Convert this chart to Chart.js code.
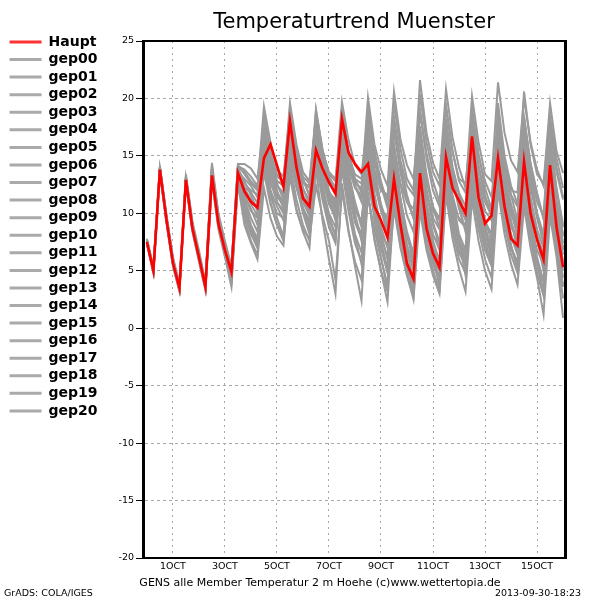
<!DOCTYPE html>
<html>
<head>
<meta charset="utf-8">
<script src="https://cdn.jsdelivr.net/npm/chart.js@4/dist/chart.umd.min.js"></script>
<style>
html,body{margin:0;padding:0;background:#fff;}
#c{display:block;}
</style>
</head>
<body>
<canvas id="c" width="600" height="600"></canvas>
<script>
// ---- data (6-hourly steps starting 30SEP 00Z) ----
const tickSteps = [4, 12, 20, 28, 36, 44, 52, 60];
const tickLabels = ["1OCT", "3OCT", "5OCT", "7OCT", "9OCT", "11OCT", "13OCT", "15OCT"];
const yTicks = [-20, -15, -10, -5, 0, 5, 10, 15, 20, 25];

const haupt = [7.5,
 5.0,13.8,9.5,5.7, 3.5,12.9,8.7,6.2, 3.6,13.3,9.1,6.8, 4.9,13.5,11.9,11.0,
 10.5,14.8,16.0,14.2, 12.3,18.0,14.0,11.3, 10.6,15.5,13.9,12.7, 11.7,18.2,15.3,14.3,
 13.6,14.3,10.6,9.4, 7.9,13.0,9.0,5.6, 4.3,13.5,8.7,6.5, 5.3,14.9,12.2,11.1,
 10.0,16.7,11.4,9.1, 9.8,14.8,10.6,7.8, 7.2,14.5,10.0,7.7, 6.0,14.2,8.8,5.3];

const gep00 = [7.6, 5.1,14.0,9.6,5.8, 3.4,13.1,8.9,6.3, 3.7,13.6,9.3,6.6, 4.6,13.8,11.5,10.2, 9.6,17.5,13.8,11.0, 10.2,17.8,14.2,11.5, 10.4,16.2,13.0,11.0, 9.8,18.5,14.6,12.8, 12.0,16.0,12.5,10.2, 8.6,15.8,11.2,8.4, 6.5,16.4,12.0,9.0, 7.2,17.2,13.2,10.8, 9.4,15.0,11.6,9.3, 8.2,17.8,13.0,10.5, 9.0,16.5,12.4,9.8, 7.5,15.8,11.0,8.2];
const gep01 = [7.4, 4.9,13.6,9.3,5.5, 3.3,12.7,8.5,6.0, 3.5,13.2,9.0,6.9, 5.2,13.2,12.3,11.8, 10.9,16.0,13.9,12.4, 11.8,16.8,13.5,11.0, 9.8,14.2,11.4,9.0, 7.6,13.8,10.2,7.4, 5.8,14.8,10.5,7.6, 5.0,15.4,11.2,8.0, 6.2,17.6,13.4,10.6, 9.5,18.2,14.0,11.8, 10.6,17.0,13.2,11.0, 9.8,19.6,15.0,12.4, 10.8,18.4,14.2,11.6, 9.5,16.5,12.2,9.0];
const gep02 = [7.7, 5.2,13.9,9.8,6.0, 3.7,13.0,9.0,6.5, 3.9,13.9,9.6,7.2, 5.5,14.3,14.3,13.9, 13.0,18.0,15.0,12.6, 11.2,19.2,15.6,13.0, 11.5,17.0,13.4,11.2, 9.4,16.0,12.0,9.5, 8.2,12.5,10.0,7.0, 4.8,11.8,8.0,5.2, 3.6,12.6,8.4,5.8, 4.5,13.4,9.6,7.4, 6.0,14.0,10.2,7.5, 5.8,15.2,11.0,8.0, 6.4,13.4,9.0,6.2, 4.0,12.8,8.2,5.0];
const gep03 = [7.5, 5.0,13.7,9.4,5.6, 3.5,12.8,8.8,6.1, 3.4,13.0,8.8,6.4, 4.2,12.8,10.0,8.2, 7.0,13.8,11.5,10.0, 9.6,15.5,12.8,10.5, 9.0,16.4,13.0,10.8, 9.6,17.8,14.0,12.2, 11.5,19.0,15.2,12.4, 10.5,17.2,13.5,11.0, 9.8,15.0,11.8,9.2, 7.5,13.0,9.8,7.4, 5.8,12.0,8.6,6.0, 4.4,13.8,9.6,7.0, 5.5,11.8,8.2,5.6, 3.0,11.2,7.0,3.6];
const gep04 = [7.6, 5.1,13.8,9.7,5.9, 3.6,13.2,9.1,6.4, 3.8,14.1,9.8,7.4, 5.0,14.0,13.6,12.8, 12.2,19.3,16.2,13.8, 13.2,18.6,15.2,12.8, 12.2,19.0,15.5,13.4, 12.8,19.7,16.4,14.2, 13.4,18.2,14.8,12.5, 11.2,16.0,12.5,9.8, 8.4,15.2,11.0,8.2, 6.8,14.0,10.2,7.6, 5.6,13.2,9.6,7.0, 6.2,14.6,10.5,7.8, 6.8,15.8,11.2,8.0, 6.4,14.8,10.6,7.4];
const gep05 = [7.3, 4.8,13.5,9.2,5.4, 3.2,12.6,8.4,5.8, 3.3,12.8,8.6,6.2, 3.6,12.6,9.0,7.4, 6.0,12.2,9.6,8.0, 7.2,13.6,10.4,8.4, 7.0,14.8,11.2,8.8, 7.4,15.6,11.8,9.2, 7.8,16.8,12.8,10.4, 9.6,18.4,14.6,12.4, 11.6,20.4,16.2,13.6, 12.4,19.2,15.4,13.0, 12.6,17.8,14.0,11.4, 10.2,16.2,12.6,10.0, 8.6,14.2,10.8,8.0, 6.4,13.0,9.6,6.8];
const gep06 = [7.8, 5.3,14.1,9.9,6.2, 3.9,13.4,9.3,6.8, 4.0,14.4,10.0,7.6, 5.4,13.6,13.0,12.4, 11.4,17.2,14.8,12.8, 12.5,19.6,16.0,13.6, 12.8,18.4,15.0,13.0, 11.8,17.0,13.6,11.0, 9.0,15.4,11.6,8.8, 7.0,14.2,10.2,7.2, 5.0,13.2,9.4,7.0, 6.0,15.0,11.6,9.4, 8.8,16.6,12.8,10.2, 9.4,18.0,14.2,12.0, 11.8,20.6,16.0,13.4, 12.6,19.6,15.4,13.5];
const gep07 = [7.5, 5.0,13.9,9.5,5.7, 3.4,12.9,8.7,6.1, 3.6,13.4,9.2,6.8, 4.8,13.4,11.0,9.0, 7.8,15.0,12.0,9.6, 8.0,14.2,11.2,9.0, 7.6,15.4,11.8,9.4, 8.2,16.6,12.6,10.0, 7.6,14.2,10.4,7.4, 5.2,13.6,9.6,6.6, 4.2,14.0,9.8,7.0, 5.4,15.6,11.4,8.2, 6.8,16.4,12.4,9.4, 7.6,18.6,14.4,11.6, 9.4,17.2,13.0,10.0, 7.8,15.2,11.0,8.0];
const gep08 = [7.6, 5.1,14.0,9.6,5.8, 3.5,13.0,8.8,6.2, 3.7,13.5,9.2,6.7, 4.5,13.0,10.6,8.6, 7.6,14.6,12.6,11.4, 10.8,17.0,13.8,11.6, 10.6,15.2,12.2,10.0, 8.8,14.6,11.0,8.2, 6.6,11.4,8.6,6.0, 3.8,10.4,7.0,4.6, 2.8,11.0,7.4,5.0, 3.4,12.0,8.4,6.0, 4.8,12.8,9.2,6.8, 5.4,14.2,10.6,8.2, 6.6,15.2,11.4,8.6, 7.0,13.8,9.8,7.0];
const gep09 = [7.4, 4.9,13.7,9.4,5.6, 3.3,12.8,8.6,6.0, 3.5,13.1,8.9,6.5, 4.0,12.7,9.6,7.6, 6.4,13.6,10.8,9.0, 8.0,16.2,12.4,10.0, 8.2,17.6,13.6,11.2, 10.0,18.8,14.8,12.6, 12.2,20.1,16.0,13.8, 12.4,20.6,16.4,14.2, 13.0,19.0,15.2,12.8, 11.0,16.8,13.0,10.4, 8.6,14.8,11.2,8.6, 6.8,13.6,10.0,7.2, 5.2,12.6,8.8,5.8, 3.2,12.4,8.0,4.4];
const gep10 = [7.7, 5.2,13.8,9.7,6.0, 3.6,13.1,9.0,6.4, 3.8,13.8,9.5,7.1, 5.1,13.9,12.8,11.6, 10.2,16.6,13.4,11.6, 10.6,18.4,14.6,12.2, 11.0,16.6,13.6,11.8, 11.0,16.2,12.8,10.6, 9.2,14.6,11.0,8.0, 6.2,12.6,8.6,5.6, 4.0,12.2,8.2,5.6, 4.0,13.2,9.2,6.6, 5.4,14.6,10.6,8.0, 6.8,16.4,12.2,9.2, 7.6,15.0,11.0,8.0, 6.0,14.0,9.6,6.4];
const gep11 = [7.5, 5.0,13.6,9.3,5.6, 3.4,12.7,8.6,6.0, 3.5,13.3,9.1,6.6, 4.4,13.3,11.6,10.4, 9.0,16.8,14.2,12.8, 12.4,17.4,14.6,12.6, 12.4,16.0,13.2,11.6, 10.4,14.8,12.0,10.2, 9.4,13.0,10.4,8.2, 7.2,12.2,9.0,6.6, 5.6,11.2,8.0,6.0, 5.0,12.0,8.8,6.8, 5.6,13.6,10.0,7.6, 6.6,15.0,11.4,8.8, 7.8,17.6,13.6,11.0, 9.8,18.2,14.0,11.4];
const gep12 = [7.6, 5.1,13.8,9.5,5.8, 3.5,13.0,8.9,6.3, 3.7,13.6,9.4,6.9, 4.9,13.7,12.0,10.8, 9.8,18.6,15.4,13.2, 12.8,18.0,15.0,13.2, 12.6,17.6,14.4,12.6, 12.0,18.0,14.8,13.0, 12.6,16.6,13.8,12.0, 11.6,14.8,12.6,11.0, 10.4,13.4,11.4,10.2, 9.4,12.6,10.6,9.6, 9.0,11.2,9.8,8.4, 7.4,12.4,9.2,7.0, 5.8,12.0,8.4,5.6, 4.2,11.0,7.0,3.8];
const gep13 = [7.5, 5.0,13.9,9.5,5.7, 3.5,12.9,8.8,6.2, 3.6,13.4,9.2,6.8, 4.7,13.5,11.2,9.6, 8.4,15.8,13.2,11.8, 11.0,16.2,13.4,11.4, 10.0,18.2,14.6,12.0, 10.6,19.2,15.4,13.0, 11.8,17.4,13.6,10.6, 8.0,15.2,11.2,8.0, 6.0,14.6,10.4,7.6, 5.8,14.4,10.6,7.8, 6.4,13.0,9.6,7.0, 5.6,12.6,9.0,6.4, 4.8,11.4,7.8,4.8, 2.8,10.6,6.6,2.6];
const gep14 = [7.4, 4.9,13.7,9.4,5.6, 3.4,12.8,8.7,6.1, 3.5,13.1,8.9,6.5, 4.1,13.1,10.2,8.4, 7.2,14.2,11.0,9.0, 7.6,13.2,10.2,8.6, 7.8,12.4,9.8,7.6, 4.2,12.0,8.4,5.8, 4.2,11.6,7.8,5.0, 3.2,12.2,8.2,5.4, 3.0,13.6,9.4,6.6, 3.6,14.6,10.4,7.6, 4.6,15.6,11.6,8.8, 6.0,16.8,12.6,9.4, 6.8,17.2,13.0,10.0, 8.2,16.6,12.0,8.8];
const gep15 = [7.6, 5.1,13.9,9.6,5.9, 3.6,13.0,9.0,6.4, 3.7,13.7,9.5,7.0, 5.0,14.1,13.8,13.2, 12.4,17.6,14.6,12.4, 11.6,17.2,14.0,12.0, 11.2,18.6,15.4,13.6, 13.0,17.4,14.2,12.4, 11.0,17.6,13.6,10.8, 9.0,18.0,13.8,11.2, 9.6,18.8,14.8,12.0, 10.6,19.4,15.4,12.8, 11.8,20.2,16.2,13.4, 12.8,21.4,17.0,14.6, 13.6,20.0,16.2,13.8, 12.4,18.4,14.8,12.2];
const gep16 = [7.5, 5.0,13.8,9.5,5.7, 3.5,13.0,8.9,6.3, 3.6,13.5,9.3,6.8, 4.6,13.2,10.8,8.8, 7.4,15.4,12.8,11.0, 10.0,15.8,12.6,10.2, 8.6,13.8,9.4,6.0, 3.0,12.6,8.6,5.4, 2.4,11.8,7.6,5.0, 2.3,11.0,7.2,4.6, 2.5,10.2,6.8,4.6, 3.0,11.6,7.8,5.2, 3.2,11.2,7.6,5.0, 3.4,12.0,8.2,5.6, 3.8,10.6,7.0,4.4, 1.2,9.8,6.2,0.9];
const gep17 = [7.7, 5.2,14.0,9.8,6.0, 3.7,13.2,9.1,6.5, 3.8,14.0,9.7,7.3, 5.3,14.2,13.4,12.6, 12.0,17.8,15.0,13.4, 12.6,18.8,15.4,13.0, 11.6,16.8,13.8,11.8, 11.2,18.0,14.6,12.4, 11.4,19.4,15.4,12.8, 10.8,17.8,14.2,11.6, 9.6,16.6,12.8,10.4, 8.8,17.0,13.4,10.6, 8.4,15.6,11.8,9.0, 6.6,14.0,10.2,7.2, 5.2,13.2,9.4,6.8, 5.6,12.4,8.4,5.4];
const gep18 = [7.6, 5.0,13.7,9.4,5.7, 3.5,12.9,8.8,6.2, 3.6,13.3,9.1,6.7, 4.3,13.0,10.4,8.4, 7.0,14.0,12.0,10.6, 9.4,14.8,12.2,10.4, 9.2,15.8,12.4,9.8, 8.0,15.0,11.2,8.0, 5.6,13.6,9.4,6.2, 3.4,12.8,8.6,5.8, 4.4,14.2,10.2,8.0, 7.4,16.0,12.8,11.0, 10.2,18.6,15.0,12.8, 11.4,17.0,13.6,11.6, 10.6,16.0,12.4,9.6, 7.4,14.0,10.0,6.8];
const gep19 = [7.5, 5.1,13.9,9.6,5.8, 3.5,13.0,8.9,6.3, 3.7,13.6,9.4,6.9, 4.8,13.8,12.6,12.0, 11.6,18.2,14.4,11.8, 10.8,16.4,12.8,10.4, 9.4,17.6,13.8,11.4, 10.4,17.4,13.4,10.8, 8.8,15.8,11.6,8.2, 6.0,14.6,10.4,7.2, 5.8,16.0,12.0,9.6, 8.6,17.8,14.0,11.6, 9.8,19.2,15.2,12.2, 10.4,16.8,13.0,10.2, 8.0,15.4,11.2,7.8, 5.0,13.4,9.0,5.8];
const gep20 = [7.7, 5.2,13.9,9.7,6.0, 3.6,13.1,9.0,6.4, 3.8,13.9,9.6,7.2, 5.2,13.9,12.2,11.2, 10.6,17.0,14.0,12.0, 10.4,17.6,14.4,12.2, 10.8,19.0,15.6,13.2, 12.2,18.4,15.0,13.4, 13.0,17.8,14.6,12.0, 11.4,19.6,15.6,13.0, 12.0,21.6,17.0,14.4, 13.0,20.8,16.6,14.0, 12.2,18.0,14.2,11.6, 9.6,17.2,13.4,10.8, 8.8,18.4,14.4,11.8, 9.6,17.4,13.6,11.2];

const memberNames = ["gep00","gep01","gep02","gep03","gep04","gep05","gep06","gep07","gep08","gep09","gep10",
  "gep11","gep12","gep13","gep14","gep15","gep16","gep17","gep18","gep19","gep20"];
const memberValues = [gep00,gep01,gep02,gep03,gep04,gep05,gep06,gep07,gep08,gep09,gep10,
  gep11,gep12,gep13,gep14,gep15,gep16,gep17,gep18,gep19,gep20];

// ---- build chart ----
const toXY = arr => arr.map((v, i) => ({x: i, y: v}));
const RED = '#ff0000';
const GRAY = '#9a9a9a';
const FONT = '"DejaVu Sans", sans-serif';

const datasets = [{
  label: 'Haupt', data: toXY(haupt), borderColor: RED, backgroundColor: '#ff3333',
  borderWidth: 2.6, pointRadius: 0, tension: 0, xAxisID: 'x', yAxisID: 'y'
}];
memberNames.forEach((n, k) => datasets.push({
  label: n, data: toXY(memberValues[k]), borderColor: GRAY, backgroundColor: '#aaaaaa',
  borderWidth: 2, pointRadius: 0, tension: 0, xAxisID: 'x', yAxisID: 'y'
}));

const footerPlugin = {
  id: 'footer',
  afterDraw(chart) {
    const ctx = chart.ctx;
    ctx.save();
    ctx.fillStyle = '#000';
    ctx.textBaseline = 'middle';
    ctx.font = '11px ' + FONT;
    ctx.textAlign = 'center';
    ctx.fillText('GENS alle Member Temperatur 2 m Hoehe (c)www.wettertopia.de', 320, 583);
    ctx.font = '9.5px ' + FONT;
    ctx.textAlign = 'right';
    ctx.fillText('2013-09-30-18:23', 581, 594);
    ctx.textAlign = 'left';
    ctx.fillText('GrADS: COLA/IGES', 4, 594);
    ctx.restore();
  }
};

new Chart(document.getElementById('c'), {
  type: 'line',
  data: { datasets },
  plugins: [footerPlugin],
  options: {
    responsive: false,
    animation: false,
    devicePixelRatio: 1,
    layout: { padding: { left: 6, right: 35, top: 0, bottom: 0 } },
    plugins: {
      tooltip: { enabled: false },
      title: {
        display: true, text: 'Temperaturtrend Muenster', fullSize: false,
        color: '#000', font: { family: FONT, size: 21, weight: 'normal' },
        padding: { top: 10, bottom: 5.8 }
      },
      legend: {
        display: true, position: 'left', align: 'start',
        title: { display: true, text: ' ', font: { size: 10 }, padding: { top: 19.4, bottom: 0 } },
        labels: {
          boxWidth: 32, boxHeight: 3, padding: 3.57, color: '#000',
          font: { family: FONT, size: 14, weight: 'bold' },
          generateLabels(chart) {
            return chart.data.datasets.map((ds, i) => ({
              text: ds.label, fillStyle: ds.backgroundColor, strokeStyle: ds.backgroundColor,
              lineWidth: 0, hidden: false, datasetIndex: i, fontColor: '#000'
            }));
          }
        }
      }
    },
    scales: {
      x: {
        type: 'linear', position: 'bottom', min: -0.6, max: 64.3,
        afterBuildTicks(s) { s.ticks = tickSteps.map(v => ({value: v})); },
        afterFit(s) { s.height = 42; },
        ticks: {
          autoSkip: false, maxRotation: 0, padding: 3, color: '#000',
          font: { family: FONT, size: 9.5 },
          callback(v) { const k = tickSteps.indexOf(v); return k >= 0 ? tickLabels[k] : ''; }
        },
        grid: { color: '#a8a8a8', lineWidth: 1, drawTicks: false },
        border: { color: '#000', width: 2, dash: [2, 4], z: 1 }
      },
      y: {
        type: 'linear', position: 'left', min: -20, max: 25,
        afterBuildTicks(s) { s.ticks = yTicks.map(v => ({value: v})); },
        afterFit(s) { s.width = 143 - 6 - s.chart.legend.width; },
        ticks: { color: '#000', padding: 2, font: { family: FONT, size: 9.5 } },
        grid: { color: '#a8a8a8', lineWidth: 1, drawTicks: true, tickLength: 7, tickColor: '#000', tickWidth: 1, tickBorderDash: [] },
        border: { color: '#000', width: 3, dash: [3, 3], z: 1 }
      },
      xTop: {
        type: 'linear', position: 'top', min: -0.6, max: 64.3,
        ticks: { display: false }, grid: { display: false, drawTicks: false },
        afterFit(s) { s.height = 0; },
        border: { color: '#000', width: 2, z: 1 }
      },
      yRight: {
        type: 'linear', position: 'right', min: -20, max: 25,
        ticks: { display: false }, grid: { display: false, drawTicks: false },
        afterFit(s) { s.width = 0; },
        border: { color: '#000', width: 3, z: 1 }
      }
    }
  }
});
</script>
</body>
</html>
